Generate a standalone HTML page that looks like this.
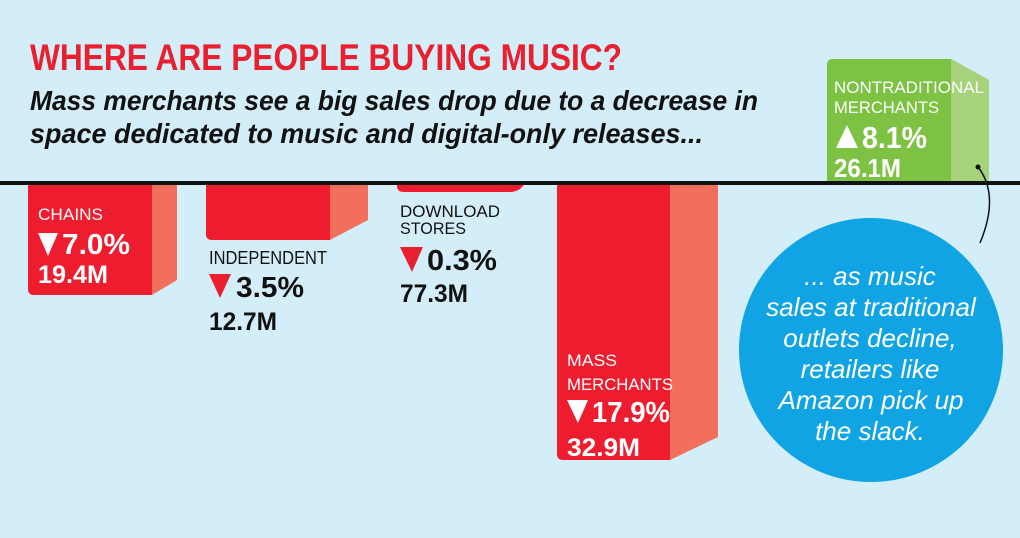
<!DOCTYPE html>
<html><head><meta charset="utf-8"><style>
html,body{margin:0;padding:0;background:#d3eef9;}
svg{display:block;font-family:"Liberation Sans",sans-serif;}
</style></head><body>
<svg width="1020" height="538" viewBox="0 0 1020 538">
<rect width="1020" height="538" fill="#d3eef9"/>
<text x="30" y="70" font-size="37" font-weight="bold" fill="#e8202f" textLength="592" lengthAdjust="spacingAndGlyphs">WHERE ARE PEOPLE BUYING MUSIC?</text>
<text x="30" y="110" font-size="28" font-weight="bold" font-style="italic" fill="#111" textLength="728" lengthAdjust="spacingAndGlyphs">Mass merchants see a big sales drop due to a decrease in</text>
<text x="30" y="143" font-size="28" font-weight="bold" font-style="italic" fill="#111" textLength="673" lengthAdjust="spacingAndGlyphs">space dedicated to music and digital-only releases...</text>

<!-- green bar -->
<path d="M827 65 Q827 59 833 59 L951 59 L989 80 L989 184 L827 184 Z" fill="#7dc242"/>
<path d="M951 59 L989 80 L989 184 L951 184 Z" fill="#a6d27a"/>
<text x="834" y="93" font-size="17" fill="#fff" textLength="150" lengthAdjust="spacingAndGlyphs">NONTRADITIONAL</text>
<text x="834" y="113" font-size="17" fill="#fff" textLength="105" lengthAdjust="spacingAndGlyphs">MERCHANTS</text>
<polygon points="836,148 858,148 847,125" fill="#fff"/>
<text x="862" y="148" font-size="31" font-weight="bold" fill="#fff" textLength="65" lengthAdjust="spacingAndGlyphs">8.1%</text>
<text x="834" y="177" font-size="26" font-weight="bold" fill="#fff" textLength="67" lengthAdjust="spacingAndGlyphs">26.1M</text>

<!-- chains -->
<path d="M28 184 L152 184 L152 295 L34 295 Q28 295 28 289 Z" fill="#ed1c2e"/>
<path d="M152 184 L177 184 L177 280 L152 295 Z" fill="#f26f5c"/>
<text x="38" y="220" font-size="17" fill="#fff" textLength="65" lengthAdjust="spacingAndGlyphs">CHAINS</text>
<polygon points="38,233 58,233 48,256" fill="#fff"/>
<text x="62" y="254" font-size="29" font-weight="bold" fill="#fff" textLength="68" lengthAdjust="spacingAndGlyphs">7.0%</text>
<text x="38" y="283" font-size="25" font-weight="bold" fill="#fff" textLength="70" lengthAdjust="spacingAndGlyphs">19.4M</text>

<!-- independent -->
<path d="M206 184 L330 184 L330 240 L212 240 Q206 240 206 234 Z" fill="#ed1c2e"/>
<path d="M330 184 L368 184 L368 220 L330 240 Z" fill="#f26f5c"/>
<text x="209" y="264" font-size="18" fill="#111" textLength="118" lengthAdjust="spacingAndGlyphs">INDEPENDENT</text>
<polygon points="209,274 231,274 220,298" fill="#e8202f"/>
<text x="236" y="297" font-size="29" font-weight="bold" fill="#111" textLength="68" lengthAdjust="spacingAndGlyphs">3.5%</text>
<text x="209" y="330" font-size="25" font-weight="bold" fill="#111" textLength="68" lengthAdjust="spacingAndGlyphs">12.7M</text>

<!-- download -->
<path d="M397 184 L525 184 L520 189 Q515 192 510 192 L404 192 Q397 192 397 186 Z" fill="#ed1c2e"/>
<text x="400" y="217" font-size="17" fill="#111" textLength="100" lengthAdjust="spacingAndGlyphs">DOWNLOAD</text>
<text x="400" y="234" font-size="17" fill="#111" textLength="66" lengthAdjust="spacingAndGlyphs">STORES</text>
<polygon points="400,247 423,247 412,272" fill="#e8202f"/>
<text x="427" y="270" font-size="29" font-weight="bold" fill="#111" textLength="70" lengthAdjust="spacingAndGlyphs">0.3%</text>
<text x="400" y="302" font-size="25" font-weight="bold" fill="#111" textLength="68" lengthAdjust="spacingAndGlyphs">77.3M</text>

<!-- mass merchants -->
<path d="M557 184 L670 184 L670 460 L563 460 Q557 460 557 454 Z" fill="#ed1c2e"/>
<path d="M670 184 L718 184 L718 437 L670 460 Z" fill="#f26f5c"/>
<text x="567" y="366" font-size="17" fill="#fff" textLength="50" lengthAdjust="spacingAndGlyphs">MASS</text>
<text x="567" y="390" font-size="17" fill="#fff" textLength="106" lengthAdjust="spacingAndGlyphs">MERCHANTS</text>
<polygon points="567,400 588,400 578,423" fill="#fff"/>
<text x="592" y="422" font-size="29" font-weight="bold" fill="#fff" textLength="78" lengthAdjust="spacingAndGlyphs">17.9%</text>
<text x="567" y="456" font-size="25" font-weight="bold" fill="#fff" textLength="73" lengthAdjust="spacingAndGlyphs">32.9M</text>

<rect x="0" y="181" width="1020" height="4" fill="#111"/>

<!-- callout -->
<circle cx="978" cy="167" r="2.5" fill="#111"/>
<path d="M978 167 Q1000 195 980 243" fill="none" stroke="#111" stroke-width="1.5"/>
<circle cx="871" cy="350" r="132" fill="#10a4e4"/>
<g font-size="26" font-style="italic" fill="#fff" text-anchor="middle">
<text x="870" y="285">... as music</text>
<text x="871" y="316">sales at traditional</text>
<text x="870" y="347">outlets decline,</text>
<text x="870" y="378">retailers like</text>
<text x="871" y="409">Amazon pick up</text>
<text x="870" y="440">the slack.</text>
</g>
</svg>
</body></html>
